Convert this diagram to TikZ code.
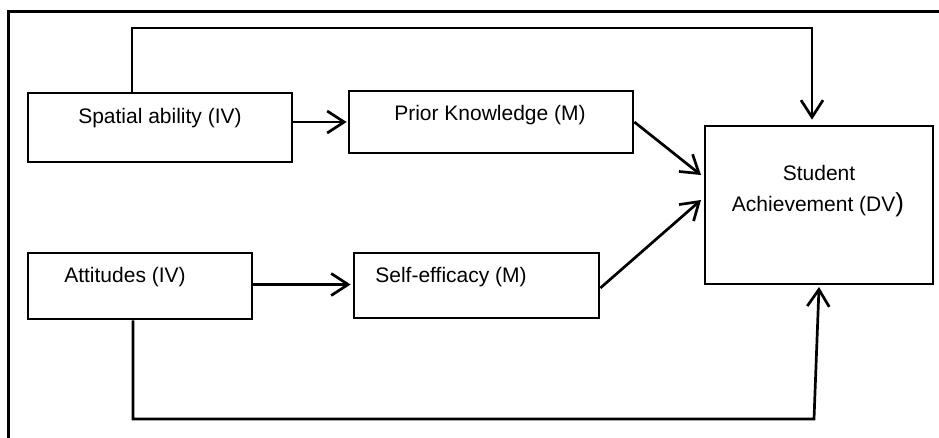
\documentclass[tikz,border=0pt]{standalone}
\usepackage{fontspec}
\setmainfont{Liberation Sans}
\usetikzlibrary{arrows.meta}
\begin{document}
\begin{tikzpicture}[x=1pt,y=-1pt,
  lw/.style={line width=2.7pt},
  box/.style={draw, lw, rectangle, inner sep=0pt},
  txt/.style={inner sep=0pt, anchor=base, font=\fontsize{21pt}{25pt}\selectfont},
  arr/.style={lw, -{Straight Barb[length=17pt,width=22pt,line width=2.7pt]}}]
\useasboundingbox (0,0) rectangle (939,438);
% outer frame (cropped)
\draw[line width=3pt] (8,438) -- (8,12) -- (940,12);
% boxes
\node[box, minimum width=264pt, minimum height=69pt] (sp) at (160,127.5) {};
\node[box, minimum width=284pt, minimum height=62pt] (pk) at (491,122) {};
\node[box, minimum width=224pt, minimum height=66pt] (at) at (140,286) {};
\node[box, minimum width=245pt, minimum height=65pt] (se) at (476.5,285.5) {};
\node[box, minimum width=228pt, minimum height=158pt] (dv) at (819,205) {};
% texts
\node[txt] (sptxt) at (160,124) {Spatial ability (IV)};
\node[txt] (pktxt) at (490,121) {Prior Knowledge (M)};
\node[txt] (attxt) at (125,283) {Attitudes (IV)};
\node[txt] (setxt) at (451,283) {Self-efficacy (M)};
\node[txt] (dvtxt1) at (819,181) {Student};
\node[txt] (dvtxt2) at (818,212) {Achievement (DV\fontsize{26pt}{30pt}\selectfont)};
% helper coordinates
\coordinate (t1) at (132,28);
\coordinate (t2) at (812,28);
\coordinate (b1) at (133,419);
\coordinate (b2) at (814,419);
\coordinate (b3) at (819,287);
\coordinate (d1) at (701,175);
\coordinate (d2) at (701,200);
% connectors
\draw[arr] (sp.north -| t1) -- (t1) -- (t2) -- ([yshift=5pt]dv.north -| t2);
\draw[arr] (sp.east |- pk.west) -- ([xshift=-1pt]pk.west);
\draw[arr] (pk.east) -- (d1);
\draw[arr] ([yshift=1.5pt]at.east) -- ([xshift=-2pt,yshift=1.5pt]se.west |- at.east);
\draw[arr] ([yshift=-2.5pt]se.east) -- (d2);
\draw[arr] (at.south -| b1) -- (b1) -- (b2) -- (b3);
\end{tikzpicture}
\end{document}
